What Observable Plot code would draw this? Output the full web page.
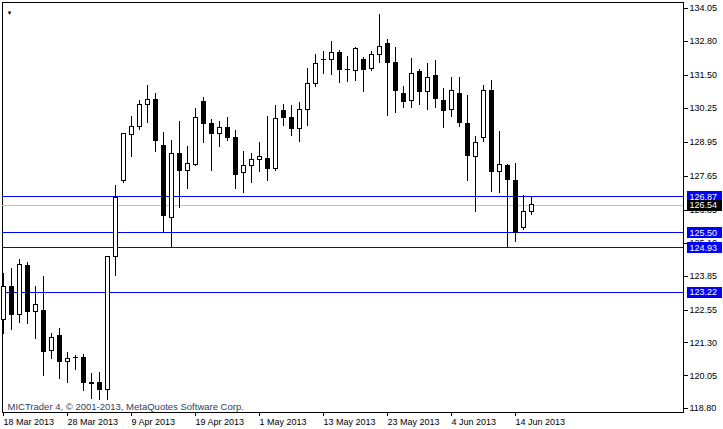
<!DOCTYPE html>
<html><head><meta charset="utf-8">
<script src="https://cdn.jsdelivr.net/npm/d3@7"></script>
<script src="https://cdn.jsdelivr.net/npm/@observablehq/plot@0.6"></script>
<style>
html,body{margin:0;padding:0;background:#fff;}
#chart svg{display:block;}
</style></head><body><div id="chart"></div>
<script>
const dates = ["2013-03-18","2013-03-19","2013-03-20","2013-03-21","2013-03-22","2013-03-25","2013-03-26","2013-03-27","2013-03-28","2013-03-29",
"2013-04-01","2013-04-02","2013-04-03","2013-04-04","2013-04-05","2013-04-08","2013-04-09","2013-04-10","2013-04-11","2013-04-12",
"2013-04-15","2013-04-16","2013-04-17","2013-04-18","2013-04-19","2013-04-22","2013-04-23","2013-04-24","2013-04-25","2013-04-26",
"2013-04-29","2013-04-30","2013-05-01","2013-05-02","2013-05-03","2013-05-06","2013-05-07","2013-05-08","2013-05-09","2013-05-10",
"2013-05-13","2013-05-14","2013-05-15","2013-05-16","2013-05-17","2013-05-20","2013-05-21","2013-05-22","2013-05-23","2013-05-24",
"2013-05-27","2013-05-28","2013-05-29","2013-05-30","2013-05-31","2013-06-03","2013-06-04","2013-06-05","2013-06-06","2013-06-07",
"2013-06-10","2013-06-11","2013-06-12","2013-06-13","2013-06-14","2013-06-17","2013-06-18"];
const open = [122.16,123.45,122.37,124.25,122.47,122.50,120.98,121.55,120.57,120.72,
120.73,119.78,119.78,119.51,124.58,127.48,129.23,129.55,130.38,130.57,
128.82,126.07,128.52,127.84,128.08,130.50,129.65,129.27,129.51,129.13,
127.77,128.06,128.28,128.32,127.94,130.16,129.88,129.46,130.19,131.18,
132.10,132.07,132.35,131.72,131.66,132.07,131.75,132.28,132.68,131.96,
130.80,130.53,131.62,130.86,131.46,130.54,130.19,130.80,129.65,128.40,
129.12,130.92,127.81,128.04,127.49,125.67,126.28];
const high = [123.94,124.13,124.48,124.36,123.45,123.83,121.65,121.86,120.92,120.82,
120.85,120.12,120.16,124.61,127.30,129.28,129.93,130.54,131.11,130.80,
129.31,129.00,129.75,128.80,130.24,130.67,129.81,129.75,129.89,129.40,
128.61,128.53,128.95,129.93,130.34,130.39,130.34,130.48,131.75,132.28,
132.41,132.79,132.45,132.22,132.57,132.17,132.41,133.82,132.87,132.57,
131.08,132.16,131.72,131.96,132.07,130.99,131.43,131.43,130.73,129.17,
131.11,131.31,129.36,128.10,128.13,126.92,126.86];
const low = [121.61,121.77,122.03,121.99,121.43,120.03,120.67,119.91,119.74,120.25,
119.45,119.15,119.10,119.12,123.83,127.39,128.38,129.38,129.68,128.57,
125.52,124.93,126.41,127.14,128.03,128.89,127.85,128.76,128.99,127.14,
127.01,127.37,127.81,127.45,127.85,129.55,129.17,128.95,129.55,131.03,
131.53,131.50,131.18,131.24,131.28,130.86,131.66,131.94,129.94,130.06,
130.25,130.23,130.35,130.16,130.23,129.49,129.91,129.52,127.47,126.26,
128.95,127.05,127.01,124.93,125.14,125.59,126.16];
const close = [123.45,122.37,124.28,122.47,122.73,120.95,121.50,120.57,120.69,120.74,
119.77,119.72,119.51,124.57,126.84,129.27,129.52,130.38,130.57,128.99,
126.13,128.51,127.85,128.13,129.88,129.65,129.27,129.50,129.12,127.71,
128.03,128.28,128.37,127.94,129.85,129.88,129.46,130.19,131.18,131.94,
132.08,132.35,131.72,131.70,132.51,131.71,132.26,132.57,131.96,130.92,
130.48,131.56,130.86,131.41,130.59,130.13,130.89,129.68,128.42,128.91,
130.92,127.81,128.09,127.52,125.50,126.31,126.54];

const xTickIdx = [0, 8, 16, 24, 32, 40, 48, 56, 64];
const xTickLabels = ["18 Mar 2013","28 Mar 2013","9 Apr 2013","19 Apr 2013","1 May 2013","13 May 2013","23 May 2013","4 Jun 2013","14 Jun 2013"];
const yTicks = [134.05,132.80,131.50,130.25,128.95,127.65,126.35,125.10,123.85,122.55,121.30,120.05,118.80];
const levels = [126.87, 125.50, 124.93, 123.22];
const lastPrice = [126.54];
const copyright = "MICTrader 4, \u00A9 2001-2013, MetaQuotes Software Corp.";

const candles = dates.map((d, i) => ({i, date: d, o: open[i], h: high[i], l: low[i], c: close[i]}));
const font = "Tahoma, 'Liberation Sans', Arial, sans-serif";

const chart = Plot.plot({
  width: 723, height: 429,
  marginLeft: 2, marginRight: 40, marginTop: 2, marginBottom: 17,
  style: {fontFamily: font, fontSize: "9px", background: "#fff", color: "#000", overflow: "visible"},
  x: {type: "linear", domain: [-0.125, 85]},
  y: {domain: [118.80, 134.05], insetTop: 6, insetBottom: 4},
  marks: [
    Plot.frame({stroke: "#000", shapeRendering: "crispEdges"}),
    Plot.axisY({anchor: "right", ticks: yTicks, tickFormat: d => d.toFixed(2), tickSize: 4, tickPadding: 2, label: null, shapeRendering: "crispEdges"}),
    Plot.axisX({anchor: "bottom", ticks: xTickIdx, tickFormat: d => xTickLabels[xTickIdx.indexOf(d)], tickSize: 4, tickPadding: 2, textAnchor: "start", label: null, shapeRendering: "crispEdges"}),
    Plot.text([copyright], {frameAnchor: "bottom-left", dx: 5, dy: -2.5, lineAnchor: "bottom", textAnchor: "start", fill: "#2f3f63", fontSize: 9.5}),
    Plot.text(["\u25BC"], {frameAnchor: "top-left", dx: 7, dy: 8, textAnchor: "middle", fontSize: 6, fill: "#000"}),
    Plot.ruleY(levels, {stroke: "#0000ff", shapeRendering: "crispEdges"}),
    Plot.ruleY(lastPrice, {stroke: "#c0c0c0", shapeRendering: "crispEdges"}),
    Plot.ruleX(candles, {x: "i", y1: "l", y2: "h", stroke: "#000", shapeRendering: "crispEdges"}),
    Plot.rect(candles, {x1: d => d.i - 0.25, x2: d => d.i + 0.25, y1: "o", y2: "c",
      fill: d => d.c >= d.o ? "#fff" : "#000", stroke: "#000", shapeRendering: "crispEdges"}),
    Plot.text(levels, {y: d => d, text: d => d.toFixed(2), frameAnchor: "right", dx: 6, textAnchor: "start", fill: "#fefefe"}),
    Plot.text(lastPrice, {y: d => d, text: d => d.toFixed(2), frameAnchor: "right", dx: 6, textAnchor: "start", fill: "#fdfdfd"})
  ]
});
document.getElementById("chart").append(chart);

// coloured tag boxes behind the level price labels
for (const [fillKey, col] of [["#fefefe", "#0000ff"], ["#fdfdfd", "#000000"]]) {
  d3.select(chart).selectAll("g").filter(function () {
    return (this.getAttribute("fill") || "").toLowerCase() === fillKey;
  }).selectAll("text").each(function () {
    const b = this.getBBox();
    const r = document.createElementNS("http://www.w3.org/2000/svg", "rect");
    r.setAttribute("transform", this.getAttribute("transform") || "");
    r.setAttribute("x", Math.round(b.x) - 3);
    r.setAttribute("y", -5.5);
    r.setAttribute("width", Math.round(b.width) + 7);
    r.setAttribute("height", 11);
    r.setAttribute("fill", col);
    r.setAttribute("shape-rendering", "crispEdges");
    this.parentNode.insertBefore(r, this);
  });
}
</script></body></html>
